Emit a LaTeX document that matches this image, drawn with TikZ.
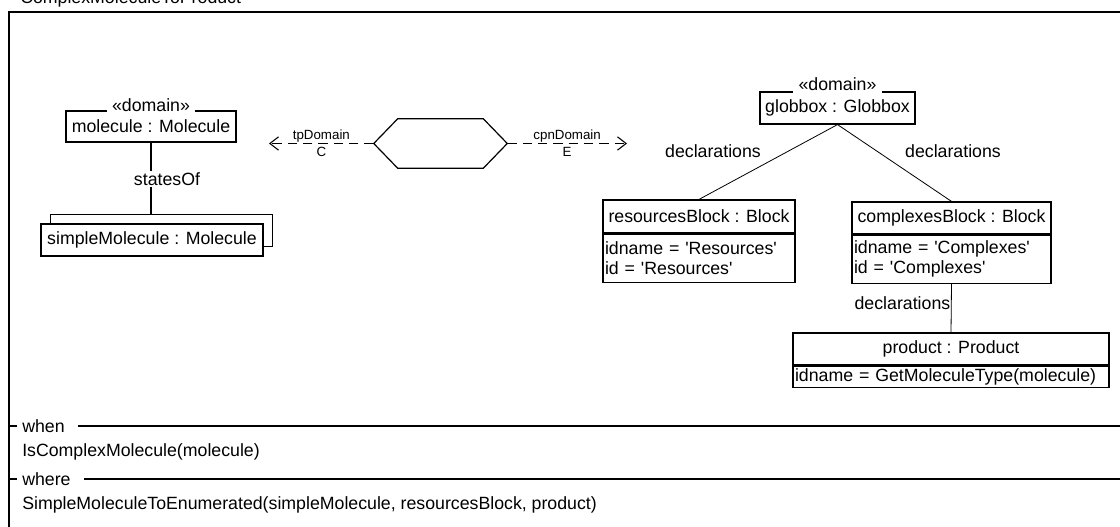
\documentclass[tikz,border=0pt]{standalone}
\usepackage{fontspec}
\setmainfont{Liberation Sans}
\usetikzlibrary{arrows.meta,positioning}
\newcommand{\objfont}{\fontsize{13.3}{15}\selectfont}
\newcommand{\tagfont}{\fontsize{10}{12}\selectfont}
\newcommand{\sq}{\textquotesingle}

\begin{document}
\begin{tikzpicture}[x=0.75pt,y=-0.75pt,
    objbox/.style={draw,line width=0.9pt,fill=white,inner sep=0pt,font=\objfont},
    attrbox/.style={draw,line width=0.9pt,fill=white,anchor=north,inner xsep=1.5pt,
                    inner ysep=0pt,align=left,font=\objfont},
    stereo/.style={fill=white,anchor=base,inner xsep=4pt,inner ysep=2pt,font=\objfont},
    link/.style={line width=0.6pt},
    lbl/.style={font=\objfont,inner sep=1pt},
    tag/.style={font=\tagfont,inner sep=0pt,anchor=base},
    dep/.style={line width=0.8pt,dash pattern=on 7pt off 4.5pt,
                -{Straight Barb[length=6.5pt,width=10pt]}},
    frameline/.style={line width=1.3pt}]

    \useasboundingbox (0,0) rectangle (1120,527);
    \clip (0,0) rectangle (1120,527);

    % ── frame of the rule ─────────────────────────────────
    \node (ruleName) [lbl,anchor=base west,inner sep=0pt] at (20,3.5)
          {ComplexMoleculeToProduct};
    \draw[frameline] (9,540) -- (9,12) -- (1130,12);

    % ── left side: molecule ───────────────────────────────
    \node (molecule) [objbox,minimum width=127.5pt,minimum height=23.25pt]
          at (151,126.5) {molecule : Molecule};
    \node (moleculeTag) [stereo] at ([yshift=-0.5pt]molecule.north) {«domain»};
    \node (simpleBack) [objbox,minimum width=166.5pt,minimum height=24pt]
          at (161.5,230.5) {};
    \node (simpleMolecule) [objbox,minimum width=166.5pt,minimum height=24pt]
          at (152,240) {simpleMolecule : Molecule};
    \draw[link,line width=0.8pt] (molecule.south) -- (molecule.south |- simpleBack.north);
    \node (statesOf) [lbl,fill=white] at (167,179) {statesOf};

    % ── middle: hexagon with the two domains ──────────────
    \node (hex) [minimum width=99.75pt,minimum height=36.75pt,inner sep=0pt]
          at (440.5,143.5) {};
    \draw[line width=0.9pt] (hex.west) -- ([xshift=18pt]hex.north west)
        -- ([xshift=-18pt]hex.north east) -- (hex.east)
        -- ([xshift=-18pt]hex.south east) -- ([xshift=18pt]hex.south west) -- cycle;
    \coordinate (tpEnd)  at (269,143.5);
    \coordinate (cpnEnd) at (627,143.5);
    \draw[dep] (hex.west) -- (tpEnd)
        node[tag,midway,yshift=3pt] (tpLbl) {tpDomain}
        node[tag,midway,yshift=-10pt] (tpKey) {C};
    \draw[dep] (hex.east) -- (cpnEnd)
        node[tag,midway,yshift=3pt] (cpnLbl) {cpnDomain}
        node[tag,midway,yshift=-10pt] (cpnKey) {E};

    % ── right side: globbox and its blocks ────────────────
    \node (globbox) [objbox,minimum width=116.25pt,minimum height=24pt]
          at (837.5,108) {globbox : Globbox};
    \node (globboxTag) [stereo] at ([yshift=1pt]globbox.north) {«domain»};

    \node (resourcesBlock) [objbox,minimum width=144pt,minimum height=24.75pt]
          at (699,216.5) {resourcesBlock : Block};
    \node (resourcesAttr) [attrbox,text width=141pt,minimum height=36pt]
          at (resourcesBlock.south) {idname = \sq Resources\sq\\id = \sq Resources\sq};

    \node (complexesBlock) [objbox,minimum width=149.25pt,minimum height=24pt]
          at (951.5,218) {complexesBlock : Block};
    \node (complexesAttr) [attrbox,text width=146.25pt,minimum height=36pt]
          at (complexesBlock.south) {idname = \sq Complexes\sq\\id = \sq Complexes\sq};

    \node (product) [objbox,minimum width=237pt,minimum height=24pt]
          at (951,349) {product : Product};
    \node (productAttr) [attrbox,text width=234pt,minimum height=15.75pt]
          at (product.south) {idname = GetMoleculeType(molecule)};

    \draw[link] (globbox.south) -- (resourcesBlock.north);
    \draw[link] (globbox.south) -- (complexesBlock.north);
    \draw[link] (complexesAttr.south) -- (product.north);
    \node (declLeft)  [lbl] at (713,151) {declarations};
    \node (declRight) [lbl] at (953,151) {declarations};
    \node (declDown)  [lbl,anchor=east,inner sep=0pt] at (950.5,303) {declarations};

    % ── when / where compartments ─────────────────────────
    \node (whenTag) [lbl,anchor=west,inner sep=0pt] at (22,426) {when};
    \draw[frameline] (9,426) -- ([xshift=-4pt]whenTag.west);
    \draw[frameline] ([xshift=10pt]whenTag.east) -- (1130,426);
    \node (whenExpr) [lbl,anchor=west,inner sep=0pt] at (22,452)
          {IsComplexMolecule(molecule)};

    \node (whereTag) [lbl,anchor=west,inner sep=0pt] at (22,479) {where};
    \draw[frameline] (9,479) -- ([xshift=-4pt]whereTag.west);
    \draw[frameline] ([xshift=10pt]whereTag.east) -- (1130,479);
    \node (whereExpr) [lbl,anchor=west,inner sep=0pt] at (22,505)
          {SimpleMoleculeToEnumerated(simpleMolecule, resourcesBlock, product)};

\end{tikzpicture}
\end{document}
